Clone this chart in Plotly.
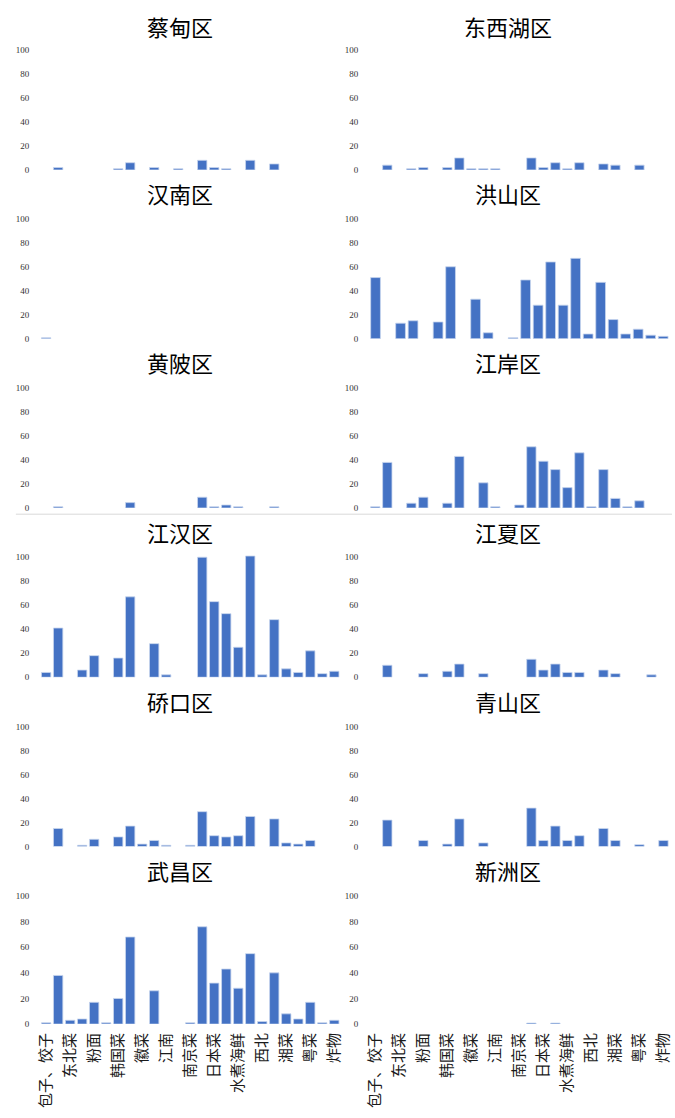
import plotly.graph_objects as go

W, H = 675, 1118

categories = ["包子、饺子", "川菜", "东北菜", "东南亚菜", "粉面", "港式", "韩国菜", "湖北菜",
              "徽菜", "火锅", "江南", "快餐", "南京菜", "其他", "日本菜", "烧烤", "水煮海鲜",
              "甜品", "西北", "西餐", "湘菜", "新疆菜", "粤菜", "云南菜", "炸物"]
tick_labels = categories[::2]

districts = ["蔡甸区", "东西湖区", "汉南区", "洪山区", "黄陂区", "江岸区",
             "江汉区", "江夏区", "硚口区", "青山区", "武昌区", "新洲区"]

caidian   = [0, 2, 0, 0, 0, 0, 1, 6, 0, 2, 0, 1, 0, 8, 2, 1, 0, 8, 0, 5, 0, 0, 0, 0, 0]
dongxihu  = [0, 4, 0, 1, 2, 0, 2, 10, 1, 1, 1, 0, 0, 10, 2, 6, 1, 6, 0, 5, 4, 0, 4, 0, 0]
hannan    = [0.8, 0, 0, 0, 0, 0, 0, 0, 0, 0, 0, 0, 0, 0, 0, 0, 0, 0, 0, 0, 0, 0, 0, 0, 0]
# 洪山区 has no 包子、饺子 category
hongshan_categories = categories[1:]
hongshan  = [51, 0, 13, 15, 0, 14, 60, 0, 33, 5, 0, 0.8, 49, 28, 64, 28, 67, 4, 47, 16, 4, 8, 3, 2]
huangpi   = [0, 1, 0, 0, 0, 0, 0, 4.5, 0, 0, 0, 0, 0, 9, 1, 2.5, 1, 0, 0, 1, 0, 0, 0, 0, 0]
jiangan   = [1, 38, 0, 4, 9, 0, 4, 43, 0, 21, 1, 0, 2.5, 51, 39, 32, 17, 46, 1, 32, 8, 1, 6, 0, 0]
jianghan  = [4, 41, 0, 6, 18, 0, 16, 67, 0, 28, 2, 0, 0, 100, 63, 53, 25, 101, 2, 48, 7, 4, 22, 3, 5]
jiangxia  = [0, 10, 0, 0, 3, 0, 5, 11, 0, 3, 0, 0, 0, 15, 6, 11, 4, 4, 0, 6, 3, 0, 0, 2, 0]
qiaokou   = [0, 15, 0, 1, 6, 0, 8, 17, 2, 5, 1, 0, 1, 29, 9, 8, 9, 25, 0, 23, 3, 2, 5, 0, 0]
qingshan  = [0, 22, 0, 0, 5, 0, 2, 23, 0, 3, 0, 0, 0, 32, 5, 17, 5, 9, 0, 15, 5, 0, 1.5, 0, 5]
wuchang   = [1, 38, 3, 4, 17, 1, 20, 68, 0, 26, 0, 0, 1, 76, 32, 43, 28, 55, 2, 40, 8, 4, 17, 1, 3]
xinzhou   = [0, 0, 0, 0, 0, 0, 0, 0, 0, 0, 0, 0, 0, 0.8, 0, 0.8, 0, 0, 0, 0, 0, 0, 0, 0, 0]

panel_data = [
    (categories, caidian), (categories, dongxihu),
    (categories, hannan), (hongshan_categories, hongshan),
    (categories, huangpi), (categories, jiangan),
    (categories, jianghan), (categories, jiangxia),
    (categories, qiaokou), (categories, qingshan),
    (categories, wuchang), (categories, xinzhou),
]

y_ticks = [0, 20, 40, 60, 80, 100]

# pixel layout
col_x = [(34.6, 338.8), (368.2, 672.4)]
row_y = [(44.0, 170.7), (213.7, 340.3), (383.7, 510.3), (553.7, 680.3), (723.7, 850.3), (893.6, 1028.7)]
title_y = [26.0, 194, 364, 534, 704, 874]
title_x = [176.7, 509]

BAR = "#4472C4"
fig = go.Figure()
layout = dict(
    width=W, height=H, margin=dict(l=0, r=0, t=0, b=0),
    paper_bgcolor="white", plot_bgcolor="white", showlegend=False,
    bargap=0.22, annotations=[], shapes=[],
    font=dict(family="Noto Sans CJK SC", color="#262626"),
)

for k, (cats, vals) in enumerate(panel_data):
    r, c = divmod(k, 2)
    ax = "" if k == 0 else str(k + 1)
    xs = [cat for cat, v in zip(cats, vals) if v]
    ys = [v for v in vals if v]
    fig.add_trace(go.Bar(
        x=xs, y=ys, xaxis="x" + ax, yaxis="y" + ax,
        marker=dict(color=BAR, line=dict(color="#c8d5ee", width=0.8)),
        width=0.78,
    ))
    x0, x1 = col_x[c]
    yt, yb = row_y[r]
    xaxis = dict(
        domain=[x0 / W, x1 / W], anchor="y" + ax, type="category",
        categoryorder="array", categoryarray=cats,
        range=[-0.5, len(cats) - 0.5], fixedrange=True,
        showgrid=False, zeroline=False, showline=False, ticks="",
        showticklabels=(r == 5),
    )
    if r == 5:
        xaxis.update(tickmode="array", tickvals=tick_labels, ticktext=tick_labels,
                     tickangle=-90, tickfont=dict(family="Noto Sans CJK SC", size=15, color="#1a1a1a"),
                     ticklabelstandoff=5)
    yaxis = dict(
        domain=[1 - yb / H, 1 - yt / H], anchor="x" + ax, range=[0, 105],
        tickmode="array", tickvals=y_ticks, showgrid=False, zeroline=False,
        showline=False, ticks="", fixedrange=True, ticklabelstandoff=10,
        tickfont=dict(family="Liberation Serif", size=9, color="#333333"),
    )
    layout["xaxis" + ax] = xaxis
    layout["yaxis" + ax] = yaxis
    layout["annotations"].append(dict(
        text=districts[k], x=title_x[c] / W, y=1 - title_y[r] / H,
        xref="paper", yref="paper", showarrow=False, xanchor="center", yanchor="middle",
        font=dict(family="Noto Sans CJK SC", size=22, color="#000000"),
    ))

layout["shapes"].append(dict(type="line", xref="paper", yref="paper",
                             x0=10 / W, x1=1, y0=1 - 516.5 / H, y1=1 - 516.5 / H,
                             line=dict(color="#d9d9d9", width=1)))

fig.update_layout(**layout)
fig.write_html("out.html", config={"displayModeBar": False},
               post_script="document.body.style.margin='0';document.body.style.overflow='hidden';")
